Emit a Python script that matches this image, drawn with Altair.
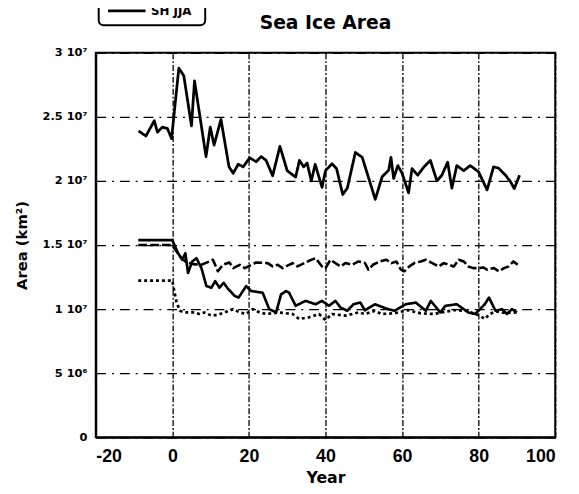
import altair as alt
import pandas as pd

# ---- data (area in million km^2) ----
series_order = ["NH DJF", "NH JJA", "SH DJF", "SH JJA"]

years_shjja = [-8.8, -6.9, -4.7, -3.9, -2.6, -1.3, -0.2, 1.7, 3.0, 5.0, 5.8, 8.8, 9.9, 10.9, 12.7,
               14.8, 15.9, 17.2, 18.5, 20.2, 21.9, 23.2, 24.5, 26.2, 28.1, 30.0, 32.2, 33.2, 34.3,
               35.2, 36.3, 37.3, 39.1, 40.0, 41.7, 42.9, 44.5, 45.7, 47.8, 49.6, 53.0, 54.8, 56.5,
               57.1, 57.8, 58.9, 60.0, 61.7, 62.6, 64.1, 65.7, 67.4, 69.1, 70.4, 71.9, 73.0, 74.3,
               76.1, 77.8, 80.0, 82.2, 83.9, 85.2, 87.0, 88.3, 89.3, 90.7]
area_shjja = [23.9, 23.5, 24.7, 23.8, 24.2, 24.1, 23.3, 28.8, 28.2, 24.3, 27.8, 21.9, 24.2, 22.8, 24.8,
              21.1, 20.6, 21.3, 21.1, 21.8, 21.5, 21.9, 21.6, 20.4, 22.7, 20.8, 20.3, 21.6, 21.1,
              21.4, 20.0, 21.3, 19.5, 20.8, 21.34, 20.96, 18.94, 19.44, 22.22, 21.84, 18.56, 20.33, 20.83,
              21.84, 20.2, 21.2, 20.6, 19.07, 20.96, 20.45, 21.09, 21.6, 20.0, 20.45, 21.46, 19.44, 21.2,
              20.8, 21.2, 20.7, 19.3, 21.1, 21.0, 20.45, 19.95, 19.4, 20.45]

years_nhjja = [-8.9, 0.0, 1.5, 2.6, 3.4, 4.1, 5.2, 6.3, 7.6, 8.9, 10.2, 11.2, 12.3, 13.4, 14.5, 16.3,
               17.3, 19.3, 20.6, 23.6, 25.3, 27.1, 28.4, 29.7, 30.5, 32.2, 34.8, 37.4, 39.1, 40.9,
               42.6, 43.9, 45.7, 47.3, 49.1, 50.3, 52.9, 56.3, 58.0, 61.0, 63.6, 66.2, 67.5, 70.0,
               71.3, 74.3, 77.3, 79.1, 81.6, 82.7, 84.4, 86.1, 87.4, 88.7, 90.0]
area_nhjja = [15.38, 15.38, 14.36, 13.85, 14.36, 12.82, 13.72, 13.97, 13.2, 11.8, 11.67, 12.18, 11.67,
              12.05, 11.6, 11.03, 10.9, 11.8, 11.41, 11.28, 10.0, 9.74, 11.15, 11.41, 11.28, 10.26,
              10.64, 10.38, 10.64, 10.26, 10.64, 10.13, 9.87, 10.38, 10.51, 9.9, 10.38, 10.0, 9.87,
              10.38, 10.51, 9.87, 10.64, 9.74, 10.26, 10.38, 9.74, 9.62, 10.38, 10.9, 9.87, 10.0,
              9.62, 10.0, 9.74]

years_nhdjf = [-8.9, 0.0, 2.0, 3.4, 5.4, 7.6, 9.7, 10.6, 11.9, 13.2, 14.9, 15.9, 17.6, 18.9, 21.9,
               24.9, 26.2, 27.5, 28.8, 31.4, 32.7, 35.7, 37.4, 39.1, 40.0, 41.3, 43.9, 45.2, 46.9,
               48.6, 50.3, 51.2, 52.4, 54.2, 55.9, 57.2, 58.5, 59.7, 60.6, 61.9, 63.2, 64.9, 66.2,
               67.9, 69.6, 70.9, 72.2, 73.5, 74.8, 76.1, 77.3, 78.6, 79.9, 81.2, 82.2, 84.0, 85.3,
               86.6, 87.8, 89.1, 90.2]
area_nhdjf = [15.0, 15.0, 14.1, 13.72, 13.51, 13.46, 13.72, 13.85, 12.95, 13.46, 13.64, 13.2, 13.46,
              13.2, 13.64, 13.59, 13.33, 13.46, 13.2, 13.59, 13.33, 13.77, 13.97, 13.33, 13.2, 13.85,
              13.33, 13.59, 13.46, 13.72, 13.6, 13.08, 13.46, 13.72, 13.85, 13.59, 13.72, 13.08,
              12.95, 13.33, 13.59, 13.72, 13.85, 13.59, 13.33, 13.59, 13.46, 13.33, 13.85, 13.72,
              13.33, 13.2, 13.2, 13.25, 13.08, 13.2, 12.95, 13.2, 13.33, 13.72, 13.46]

years_shdjf = [-8.9, 0.0, 0.5, 1.1, 2.0, 3.3, 5.8, 7.1, 8.4, 10.2, 11.9, 13.6, 15.9, 17.6, 19.3,
               21.0, 22.8, 24.5, 27.9, 31.4, 33.1, 35.7, 38.3, 40.0, 41.7, 45.2, 48.6, 50.3, 52.9,
               54.6, 58.0, 61.5, 64.9, 68.3, 71.8, 73.5, 76.9, 78.6, 80.3, 81.6, 82.9, 84.6, 87.0, 90.0]
area_shdjf = [12.23, 12.23, 11.41, 10.51, 9.87, 9.74, 9.74, 9.62, 9.74, 9.49, 9.56, 9.74, 10.0, 9.74,
              9.62, 10.0, 9.74, 9.62, 9.74, 9.62, 9.23, 9.36, 9.62, 9.15, 9.62, 9.49, 9.74, 9.62,
              9.87, 9.62, 9.67, 9.92, 9.67, 9.62, 9.82, 9.92, 9.87, 9.67, 9.49, 9.23, 9.62, 9.82,
              9.7, 9.74]

x_ticks = [-20, 0, 20, 40, 60, 80, 100]
y_ticks = [0, 5e6, 1e7, 1.5e7, 2e7, 2.5e7, 3e7]

rows = []
for name, ys, vs in [("NH DJF", years_nhdjf, area_nhdjf), ("NH JJA", years_nhjja, area_nhjja),
                     ("SH DJF", years_shdjf, area_shdjf), ("SH JJA", years_shjja, area_shjja)]:
    for yr, v in zip(ys, vs):
        rows.append({"series": name, "year": yr, "area": v * 1e6})
df = pd.DataFrame(rows)

FONT = "Liberation Sans"
FONT2 = "DejaVu Sans"

y_label_expr = ("datum.value == 0 ? '0' : (datum.value >= 1e7 ? (datum.value / 1e7) + ' 10\u2077' "
                ": (datum.value / 1e6) + ' 10\u2076')")

chart = alt.Chart(df).mark_line(color="black", strokeJoin="round", strokeCap="butt").encode(
    x=alt.X("year:Q",
            scale=alt.Scale(domain=[-20, 100], nice=False, zero=False),
            axis=alt.Axis(values=x_ticks, title="Year", labelExpr="'' + datum.value", ticks=False,
                          labelFontSize=18, labelFont=FONT, labelFontWeight="bold", labelPadding=11,
                          titleFontSize=16, titleFont=FONT2, titleFontWeight="bold", titlePadding=4,
                          grid=True, gridDash=[6, 2, 2, 2], gridColor="black", gridWidth=1.3,
                          gridOpacity=1, domainColor="black", domainWidth=2)),
    y=alt.Y("area:Q",
            scale=alt.Scale(domain=[0, 3e7], nice=False),
            axis=alt.Axis(values=y_ticks, title="Area (km\u00b2)", labelExpr=y_label_expr, ticks=False,
                          labelFontSize=11.5, labelFont=FONT2, labelFontWeight="bold", labelPadding=9,
                          titleFontSize=15, titleFont=FONT2, titleFontWeight="bold", titlePadding=13,
                          grid=True, gridDash=[10, 6, 2, 6], gridColor="black", gridWidth=1.3,
                          gridOpacity=1, domainColor="black", domainWidth=2)),
    strokeDash=alt.StrokeDash("series:N",
                              scale=alt.Scale(domain=series_order,
                                              range=[[9, 3], [1, 0], [3, 3], [1, 0]]),
                              legend=alt.Legend(orient="none", legendX=3, legendY=-158, title=None,
                                                symbolType="stroke", symbolSize=1444,
                                                symbolStrokeWidth=1.8, symbolStrokeColor="black",
                                                labelFont=FONT2, labelFontWeight="bold",
                                                labelFontSize=12, labelOffset=4, strokeColor="black",
                                                padding=8, cornerRadius=5, fillColor="white")),
    strokeWidth=alt.StrokeWidth("series:N",
                                scale=alt.Scale(domain=series_order, range=[2.6, 2.8, 2.2, 3.0]),
                                legend=None),
    detail="series:N",
).properties(
    width=466, height=390,
    title=alt.TitleParams("Sea Ice Area", font=FONT2, fontSize=19, fontWeight="bold",
                          anchor="middle", frame="group", offset=0, dy=139),
    autosize=alt.AutoSizeParams(type="none"),
    padding={"left": 89, "top": 42, "right": 16, "bottom": 46},
).configure_view(stroke="black", strokeWidth=2).configure_legend(strokeWidth=2)

chart.save("out.html", embed_options={"renderer": "svg", "actions": False})
